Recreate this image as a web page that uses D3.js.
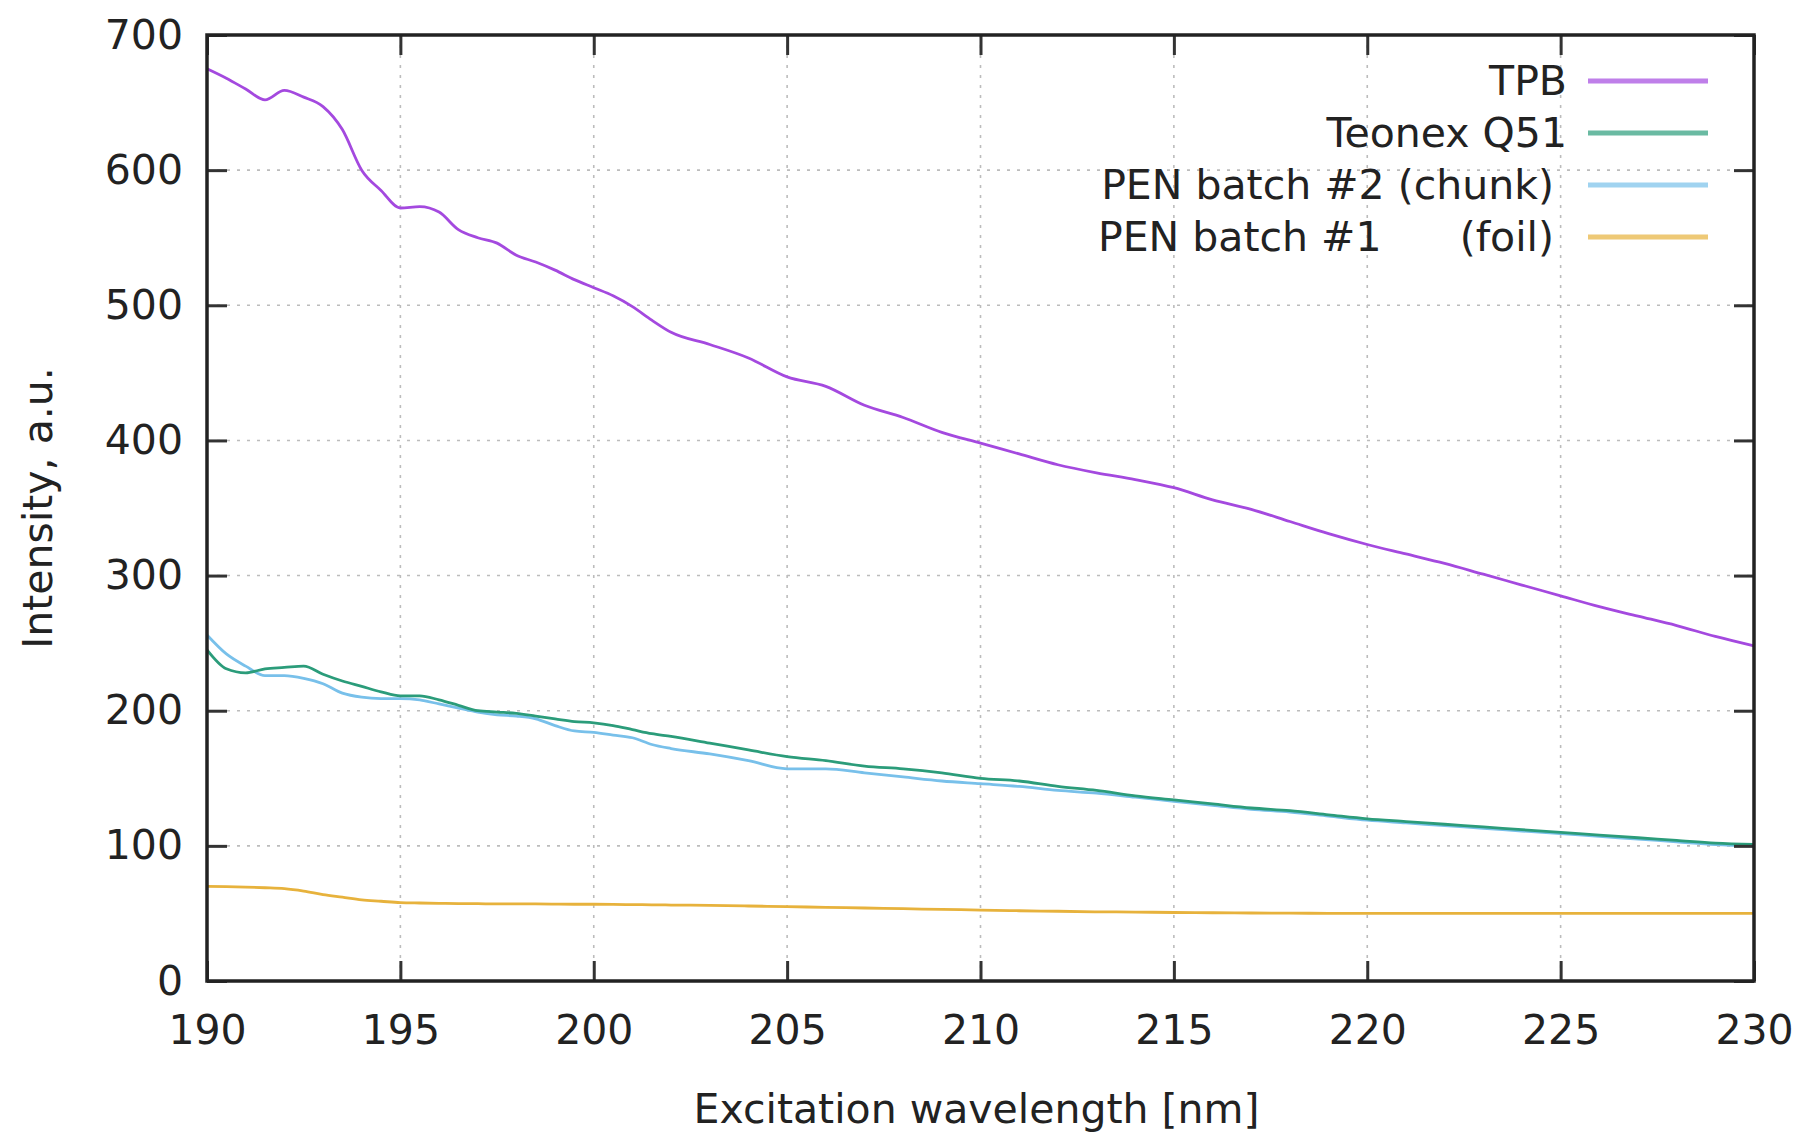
<!DOCTYPE html>
<html>
<head>
<meta charset="utf-8">
<script src="https://cdn.jsdelivr.net/npm/d3@7"></script>
<style>
  body { margin: 0; background: #fff; }
  svg text { font-family: "DejaVu Sans", sans-serif; fill: #222; }
</style>
</head>
<body>
<svg id="chart"></svg>
<script>
// wavelengths (nm), shared by all series
var wavelength = [190, 190.5, 191, 191.5, 192, 192.5, 193, 193.5, 194, 194.5,
  195, 195.5, 196, 196.5, 197, 197.5, 198, 198.5, 199, 199.5,
  200, 200.5, 201, 201.5, 202, 203, 204, 205, 206, 207, 208, 209, 210,
  211, 212, 213, 214, 215, 216, 217, 218, 219, 220,
  221, 222, 223, 224, 225, 226, 227, 228, 229, 230];

var tpb = [675, 668, 660, 652, 659, 654, 647, 630, 600, 585,
  572, 573, 569, 556, 550, 546, 537, 532, 526, 519,
  513, 507, 499, 489, 480, 471, 461, 447, 440, 426, 417, 406, 398,
  390, 382, 376, 371, 365, 356, 349, 340, 331, 323,
  316, 309, 301, 293, 285, 277, 270, 263, 255, 248];

var teonex = [245, 231, 228, 231, 232, 233, 227, 222, 218, 214,
  211, 211, 208, 204, 200, 199, 198, 196, 194, 192,
  191, 189, 186, 183, 181, 176, 171, 166, 163, 159, 157, 154, 150,
  148, 144, 141, 137, 134, 131, 128, 126, 123, 120,
  118, 116, 114, 112, 110, 108, 106, 104, 102, 101];

var pen2 = [256, 242, 233, 226, 226, 224, 220, 213, 210, 209,
  209, 208, 205, 202, 199, 197, 196, 194, 189, 185,
  184, 182, 180, 175, 172, 168, 163, 157, 157, 154, 151, 148, 146,
  144, 141, 139, 136, 133, 130, 127, 125, 122, 119,
  117, 115, 113, 111, 109, 107, 105, 103, 101, 100];

var pen1 = [70, 69.8, 69.5, 69, 68.3, 66.5, 64, 62, 60, 59,
  58, 57.7, 57.5, 57.3, 57.2, 57, 57, 57, 56.9, 56.8,
  56.8, 56.7, 56.5, 56.4, 56.2, 56, 55.5, 55, 54.5, 54, 53.5, 53, 52.5,
  52, 51.6, 51.2, 51, 50.7, 50.5, 50.3, 50.2, 50.1, 50,
  50, 50, 50, 50, 50, 50, 50, 50, 50, 50];

var seriesNames = ["TPB", "Teonex Q51", "PEN batch #2 (chunk) ", "PEN batch #1      (foil) "];
var seriesValues = [tpb, teonex, pen2, pen1];
var seriesColors = ["#a449df", "#2b9c7a", "#78c0ea", "#e7b23c"];

var xTicks = [190, 195, 200, 205, 210, 215, 220, 225, 230];
var yTicks = [0, 100, 200, 300, 400, 500, 600, 700];

var width = 1806, height = 1136;
var margin = {top: 35, right: 52, bottom: 155, left: 207};
var innerW = width - margin.left - margin.right;
var innerH = height - margin.top - margin.bottom;
var fontSize = 41;

var svg = d3.select("#chart").attr("width", width).attr("height", height);
var g = svg.append("g").attr("transform", "translate(" + margin.left + "," + margin.top + ")");

var x = d3.scaleLinear().domain([190, 230]).range([0, innerW]);
var y = d3.scaleLinear().domain([0, 700]).range([innerH, 0]);

// dotted grid
g.append("g").selectAll("line")
  .data(xTicks.slice(1, -1)).enter().append("line")
  .attr("x1", d => x(d)).attr("x2", d => x(d))
  .attr("y1", 0).attr("y2", innerH)
  .attr("stroke", "#bcbcbc").attr("stroke-width", 1.6).attr("stroke-dasharray", "3,7");
g.append("g").selectAll("line")
  .data(yTicks.slice(1, -1)).enter().append("line")
  .attr("x1", 0).attr("x2", innerW)
  .attr("y1", d => y(d)).attr("y2", d => y(d))
  .attr("stroke", "#bcbcbc").attr("stroke-width", 1.6).attr("stroke-dasharray", "3,7");

// data lines
var line = d3.line()
  .x((d, i) => x(wavelength[i]))
  .y(d => y(d))
  .curve(d3.curveMonotoneX);

for (var k = seriesValues.length - 1; k >= 0; k--) {
  g.append("path")
    .datum(seriesValues[k])
    .attr("d", line)
    .attr("fill", "none")
    .attr("stroke", seriesColors[k])
    .attr("stroke-width", 2.8)
    .attr("stroke-linejoin", "round");
}

// axes, ticks pointing inward
var xAxis = d3.axisBottom(x).tickValues(xTicks).tickSizeInner(-20).tickSizeOuter(0).tickPadding(34);
var yAxis = d3.axisLeft(y).tickValues(yTicks).tickSizeInner(-20).tickSizeOuter(0).tickPadding(24);

var gx = g.append("g").attr("transform", "translate(0," + innerH + ")").call(xAxis);
var gy = g.append("g").call(yAxis);
var gt = g.append("g").call(d3.axisTop(x).tickValues(xTicks).tickSizeInner(-20).tickSizeOuter(0).tickFormat(""));
var gr = g.append("g").attr("transform", "translate(" + innerW + ",0)")
  .call(d3.axisRight(y).tickValues(yTicks).tickSizeInner(-20).tickSizeOuter(0).tickFormat(""));

[gx, gy, gt, gr].forEach(function (a) {
  a.select(".domain").remove();
  a.selectAll(".tick line").attr("stroke", "#333").attr("stroke-width", 3);
  a.selectAll(".tick text").attr("font-size", fontSize).attr("fill", "#222")
    .style("font-family", "'DejaVu Sans', sans-serif");
});

// frame
g.append("rect")
  .attr("x", 0).attr("y", 0).attr("width", innerW).attr("height", innerH)
  .attr("fill", "none").attr("stroke", "#222").attr("stroke-width", 3.5);

// axis titles
svg.append("text")
  .attr("transform", "translate(52," + (margin.top + innerH / 2) + ") rotate(-90)")
  .attr("text-anchor", "middle").attr("font-size", fontSize)
  .text("Intensity, a.u.");

svg.append("text")
  .attr("x", margin.left + innerW / 2 - 4).attr("y", 1123)
  .attr("text-anchor", "middle").attr("font-size", fontSize)
  .text("Excitation wavelength [nm]");

// legend
var legend = svg.append("g");
seriesNames.forEach(function (name, i) {
  var ly = 81 + i * 52;
  legend.append("text")
    .attr("x", 1567).attr("y", ly).attr("dy", "0.35em")
    .attr("text-anchor", "end").attr("font-size", fontSize)
    .style("white-space", "pre")
    .text(name);
  legend.append("line")
    .attr("x1", 1588).attr("x2", 1708).attr("y1", ly).attr("y2", ly)
    .attr("stroke", seriesColors[i]).attr("stroke-width", 5).attr("stroke-opacity", 0.7);
});
</script>
</body>
</html>
